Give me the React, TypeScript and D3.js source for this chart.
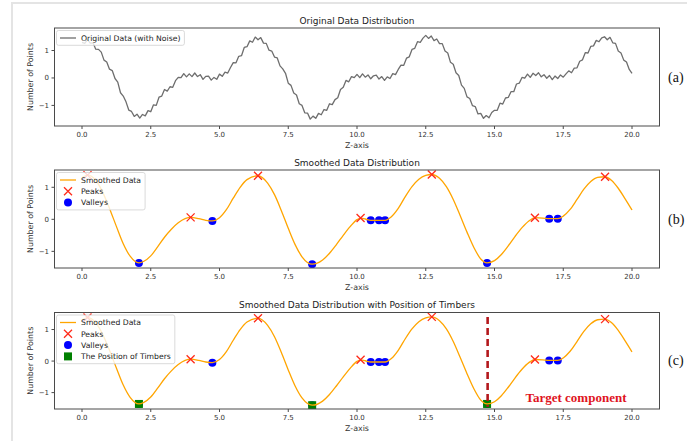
import React, { useEffect, useRef } from "react";
import * as d3 from "d3";

const W = 687;
const H = 441;

// raw signal, one reading every 0.1 along Z (0 .. 20)
const noisyValues = [
  1.30, 1.26, 1.40, 1.27, 1.28, 1.05, 1.04, 0.94, 0.65, 0.58,
  0.32, 0.27, -0.02, -0.15, -0.54, -0.66, -0.87, -1.17, -1.22, -1.40,
  -1.32, -1.46, -1.33, -1.38, -1.19, -1.23, -0.98, -1.00, -0.70, -0.66,
  -0.42, -0.48, -0.32, -0.34, -0.10, 0.02, 0.01, 0.16, 0.04, 0.15,
  0.05, 0.18, 0.05, 0.12, -0.05, 0.06, 0.07, -0.08, 0.02, -0.05,
  0.14, 0.06, 0.21, 0.18, 0.38, 0.56, 0.55, 0.79, 0.81, 1.11,
  1.14, 1.35, 1.30, 1.49, 1.39, 1.47, 1.27, 1.26, 1.01, 0.98,
  0.76, 0.73, 0.44, 0.33, 0.17, -0.19, -0.27, -0.55, -0.62, -0.94,
  -1.00, -1.27, -1.28, -1.50, -1.39, -1.47, -1.29, -1.34, -1.15, -1.18,
  -0.94, -0.97, -0.79, -0.72, -0.42, -0.34, -0.09, -0.14, 0.05, 0.01,
  0.13, 0.01, 0.15, 0.03, 0.11, -0.03, 0.08, 0.10, -0.04, 0.05,
  -0.09, 0.04, -0.02, 0.16, 0.12, 0.31, 0.47, 0.46, 0.72, 0.77,
  1.04, 1.08, 1.32, 1.30, 1.45, 1.55, 1.44, 1.53, 1.36, 1.42,
  1.25, 1.25, 0.98, 0.91, 0.57, 0.50, 0.19, 0.09, -0.26, -0.38,
  -0.69, -0.75, -1.01, -1.04, -1.31, -1.29, -1.47, -1.37, -1.45, -1.26,
  -1.18, -1.18, -0.92, -0.95, -0.73, -0.71, -0.50, -0.50, -0.22, -0.19,
  0.02, -0.01, 0.14, 0.02, 0.17, 0.09, 0.19, 0.04, 0.12, -0.01,
  0.09, -0.06, 0.07, -0.02, 0.11, 0.03, 0.15, 0.26, 0.19, 0.36,
  0.37, 0.61, 0.66, 0.92, 0.91, 1.15, 1.17, 1.37, 1.32, 1.46,
  1.50, 1.39, 1.48, 1.28, 1.26, 0.98, 0.91, 0.65, 0.58, 0.31,
  0.17,
];

const smoothZ = [
  0, 0.2, 0.5, 0.75, 1, 1.25, 1.5, 1.75, 2.07, 2.25, 2.5, 2.75, 3, 3.25, 3.5,
  3.75, 3.95, 4.25, 4.5, 4.74, 5, 5.25, 5.5, 5.75, 6, 6.4, 6.75, 7, 7.25, 7.5,
  7.75, 8, 8.37, 8.75, 9, 9.25, 9.5, 9.75, 10, 10.13, 10.3, 10.5, 10.8, 11.02,
  11.25, 11.5, 11.75, 12, 12.25, 12.5, 12.72, 13, 13.25, 13.5, 13.75, 14,
  14.25, 14.5, 14.73, 15, 15.25, 15.5, 15.75, 16, 16.25, 16.47, 16.75, 16.99,
  17.3, 17.5, 17.75, 18, 18.25, 18.5, 18.75, 19.02, 19.25, 19.5, 19.75, 20,
];
const smoothValues = [
  1.30, 1.38, 1.22, 0.85, 0.34, -0.22, -0.76, -1.15, -1.36, -1.31, -1.14,
  -0.86, -0.56, -0.31, -0.11, 0.02, 0.06, 0.02, -0.03, -0.05, 0.05, 0.30,
  0.66, 1.00, 1.24, 1.36, 1.13, 0.77, 0.27, -0.28, -0.79, -1.17, -1.40,
  -1.27, -1.06, -0.79, -0.50, -0.23, -0.01, 0.04, 0.01, -0.03, -0.03, -0.03,
  0.08, 0.34, 0.70, 1.02, 1.25, 1.37, 1.40, 1.28, 1.02, 0.62, 0.12, -0.40,
  -0.88, -1.24, -1.36, -1.29, -1.10, -0.83, -0.53, -0.26, -0.05, 0.05, 0.04,
  0.02, 0.02, 0.10, 0.31, 0.62, 0.94, 1.18, 1.31, 1.33, 1.22, 0.97, 0.64,
  0.29,
];

const peakZ = [0.2, 3.95, 6.4, 10.13, 12.72, 16.47, 19.02];
const peakValues = [1.38, 0.06, 1.36, 0.04, 1.40, 0.05, 1.33];
const valleyZ = [2.07, 4.74, 8.37, 10.5, 10.8, 11.02, 14.73, 16.99, 17.3];
const valleyValues = [-1.36, -0.05, -1.40, -0.03, -0.03, -0.03, -1.36, 0.02, 0.02];
const timberZ = [2.07, 8.37, 14.73];
const timberValues = [-1.36, -1.40, -1.36];
const targetZ = 14.75;
const targetSpan = [-1.45, 1.4];

const xTicks = [0, 2.5, 5, 7.5, 10, 12.5, 15, 17.5, 20];
const yTicks = [-1, 0, 1];

const titles = [
  "Original Data Distribution",
  "Smoothed Data Distribution",
  "Smoothed Data Distribution with Position of Timbers",
];
const tags = ["(a)", "(b)", "(c)"];

const FONT = "DejaVu Sans, sans-serif";
const SERIF = "Liberation Serif, Times New Roman, serif";

const App = () => {
  const svgRef = useRef(null);

  useEffect(() => {
    const svg = d3.select(svgRef.current);
    svg.selectAll("*").remove();

    const left = 54.5;
    const right = 659.5;
    const x = d3.scaleLinear().domain([-1, 21]).range([left, right]);

    // faint frame of the notebook output
    svg
      .append("path")
      .attr("d", `M12,${H} L12,3 L${W},3`)
      .attr("fill", "none")
      .attr("stroke", "#e4e4e4")
      .attr("stroke-width", 2);

    const panels = [
      { top: 28, bottom: 126, ylim: [-1.75, 1.82] },
      { top: 170, bottom: 268, ylim: [-1.52, 1.54] },
      { top: 312.5, bottom: 409, ylim: [-1.52, 1.54] },
    ];

    const zOfIndex = d3
      .scaleLinear()
      .domain([0, noisyValues.length - 1])
      .range([0, 20]);

    panels.forEach((p, i) => {
      const y = d3.scaleLinear().domain(p.ylim).range([p.bottom, p.top]);
      const g = svg.append("g");

      g.append("rect")
        .attr("x", left)
        .attr("y", p.top)
        .attr("width", right - left)
        .attr("height", p.bottom - p.top)
        .attr("fill", "white");

      const clipId = `clip-${i}`;
      g.append("clipPath")
        .attr("id", clipId)
        .append("rect")
        .attr("x", left)
        .attr("y", p.top)
        .attr("width", right - left)
        .attr("height", p.bottom - p.top);

      const plot = g.append("g").attr("clip-path", `url(#${clipId})`);

      // Draw data
      if (i === 0) {
        const line = d3
          .line()
          .x((d, k) => x(zOfIndex(k)))
          .y((d) => y(d));
        plot
          .append("path")
          .attr("d", line(noisyValues))
          .attr("fill", "none")
          .attr("stroke", "#6e6e6e")
          .attr("stroke-width", 1.3)
          .attr("stroke-linejoin", "round");
      } else {
        plot
          .selectAll("circle.valley")
          .data(valleyZ)
          .enter()
          .append("circle")
          .attr("cx", (d) => x(d))
          .attr("cy", (d, k) => y(valleyValues[k]))
          .attr("r", 4)
          .attr("fill", "#0000ff");

        if (i === 2) {
          plot
            .selectAll("rect.timber")
            .data(timberZ)
            .enter()
            .append("rect")
            .attr("x", (d) => x(d) - 4)
            .attr("y", (d, k) => y(timberValues[k]) - 4)
            .attr("width", 8)
            .attr("height", 8)
            .attr("fill", "#008000");
        }

        const line = d3
          .line()
          .x((d) => x(d))
          .y((d, k) => y(smoothValues[k]))
          .curve(d3.curveMonotoneX);
        plot
          .append("path")
          .attr("d", line(smoothZ))
          .attr("fill", "none")
          .attr("stroke", "#ffa500")
          .attr("stroke-width", 1.3);

        const cross = plot
          .selectAll("g.peak")
          .data(peakZ)
          .enter()
          .append("g")
          .attr("transform", (d, k) => `translate(${x(d)},${y(peakValues[k])})`);
        cross
          .append("path")
          .attr("d", "M-4,-4L4,4M-4,4L4,-4")
          .attr("stroke", "#ff2a1a")
          .attr("stroke-width", 1.3);

        if (i === 2) {
          plot
            .append("line")
            .attr("x1", x(targetZ))
            .attr("x2", x(targetZ))
            .attr("y1", y(targetSpan[1]))
            .attr("y2", y(targetSpan[0]))
            .attr("stroke", "#b3171c")
            .attr("stroke-width", 2.6)
            .attr("stroke-dasharray", "7,4");

          g.append("text")
            .attr("x", 576)
            .attr("y", p.bottom - 7)
            .attr("text-anchor", "middle")
            .style("font-family", SERIF)
            .style("font-weight", "bold")
            .style("font-size", "13px")
            .attr("fill", "#e0141e")
            .text("Target component");
        }
      }

      // frame
      g.append("rect")
        .attr("x", left)
        .attr("y", p.top)
        .attr("width", right - left)
        .attr("height", p.bottom - p.top)
        .attr("fill", "none")
        .attr("stroke", "#4a4a4a")
        .attr("stroke-width", 1);

      // Add axes
      xTicks.forEach((t) => {
        g.append("line")
          .attr("x1", x(t))
          .attr("x2", x(t))
          .attr("y1", p.bottom)
          .attr("y2", p.bottom + 3)
          .attr("stroke", "#4a4a4a");
        g.append("text")
          .attr("x", x(t))
          .attr("y", p.bottom + 10.8)
          .attr("text-anchor", "middle")
          .style("font-family", FONT)
          .style("font-size", "7px")
          .attr("fill", "#333")
          .text(t.toFixed(1));
      });
      yTicks.forEach((t) => {
        g.append("line")
          .attr("x1", left)
          .attr("x2", left - 3)
          .attr("y1", y(t))
          .attr("y2", y(t))
          .attr("stroke", "#4a4a4a");
        g.append("text")
          .attr("x", left - 5.5)
          .attr("y", y(t) + 2.5)
          .attr("text-anchor", "end")
          .style("font-family", FONT)
          .style("font-size", "7px")
          .attr("fill", "#333")
          .text(d3.format("d")(t).replace("-", "\u2212"));
      });

      // Add title and labels
      g.append("text")
        .attr("x", (left + right) / 2)
        .attr("y", p.top - 4.5)
        .attr("text-anchor", "middle")
        .style("font-family", FONT)
        .style("font-size", "9px")
        .attr("fill", "#222")
        .text(titles[i]);

      g.append("text")
        .attr("x", (left + right) / 2)
        .attr("y", p.bottom + 22.3)
        .attr("text-anchor", "middle")
        .style("font-family", FONT)
        .style("font-size", "7.9px")
        .attr("fill", "#333")
        .text("Z-axis");

      g.append("text")
        .attr("transform", `translate(32.8,${(p.top + p.bottom) / 2}) rotate(-90)`)
        .attr("text-anchor", "middle")
        .style("font-family", FONT)
        .style("font-size", "7.9px")
        .attr("fill", "#333")
        .text("Number of Points");

      g.append("text")
        .attr("x", 668)
        .attr("y", (p.top + p.bottom) / 2 + 4.5)
        .style("font-family", SERIF)
        .style("font-size", "14px")
        .attr("fill", "#111")
        .text(tags[i]);

      // legend
      const entries =
        i === 0
          ? [{ label: "Original Data (with Noise)", kind: "gray" }]
          : [
              { label: "Smoothed Data", kind: "line" },
              { label: "Peaks", kind: "x" },
              { label: "Valleys", kind: "dot" },
            ].concat(i === 2 ? [{ label: "The Position of Timbers", kind: "square" }] : []);

      const leg = g.append("g");
      const box = leg
        .append("rect")
        .attr("x", 56.5)
        .attr("y", p.top + 2.5)
        .attr("rx", 2)
        .attr("height", entries.length * 11.3 + 3.5)
        .attr("fill", "white")
        .attr("fill-opacity", 0.8)
        .attr("stroke", "#d0d0d0")
        .attr("stroke-width", 0.8);

      let maxW = 0;
      entries.forEach((e, k) => {
        const cy = p.top + 10 + k * 11.3;
        if (e.kind === "gray" || e.kind === "line") {
          leg
            .append("line")
            .attr("x1", 60)
            .attr("x2", 76)
            .attr("y1", cy)
            .attr("y2", cy)
            .attr("stroke", e.kind === "gray" ? "#6e6e6e" : "#ffa500")
            .attr("stroke-width", 1.3);
        } else if (e.kind === "x") {
          leg
            .append("path")
            .attr("d", `M64,${cy - 4}L72,${cy + 4}M64,${cy + 4}L72,${cy - 4}`)
            .attr("stroke", "#ff2a1a")
            .attr("stroke-width", 1.3);
        } else if (e.kind === "dot") {
          leg.append("circle").attr("cx", 68).attr("cy", cy).attr("r", 4).attr("fill", "#0000ff");
        } else {
          leg
            .append("rect")
            .attr("x", 64)
            .attr("y", cy - 4)
            .attr("width", 8)
            .attr("height", 8)
            .attr("fill", "#008000");
        }
        const t = leg
          .append("text")
          .attr("x", 81)
          .attr("y", cy + 2.7)
          .style("font-family", FONT)
          .style("font-size", "7.7px")
          .attr("fill", "#222")
          .text(e.label);
        maxW = Math.max(maxW, t.node().getComputedTextLength());
      });
      box.attr("width", 81 + maxW + 4 - 56.5);
    });
  }, []);

  return (
    <svg
      ref={svgRef}
      width={W}
      height={H}
      style={{ position: "absolute", left: 0, top: 0, background: "white" }}
    ></svg>
  );
};

export default App;
